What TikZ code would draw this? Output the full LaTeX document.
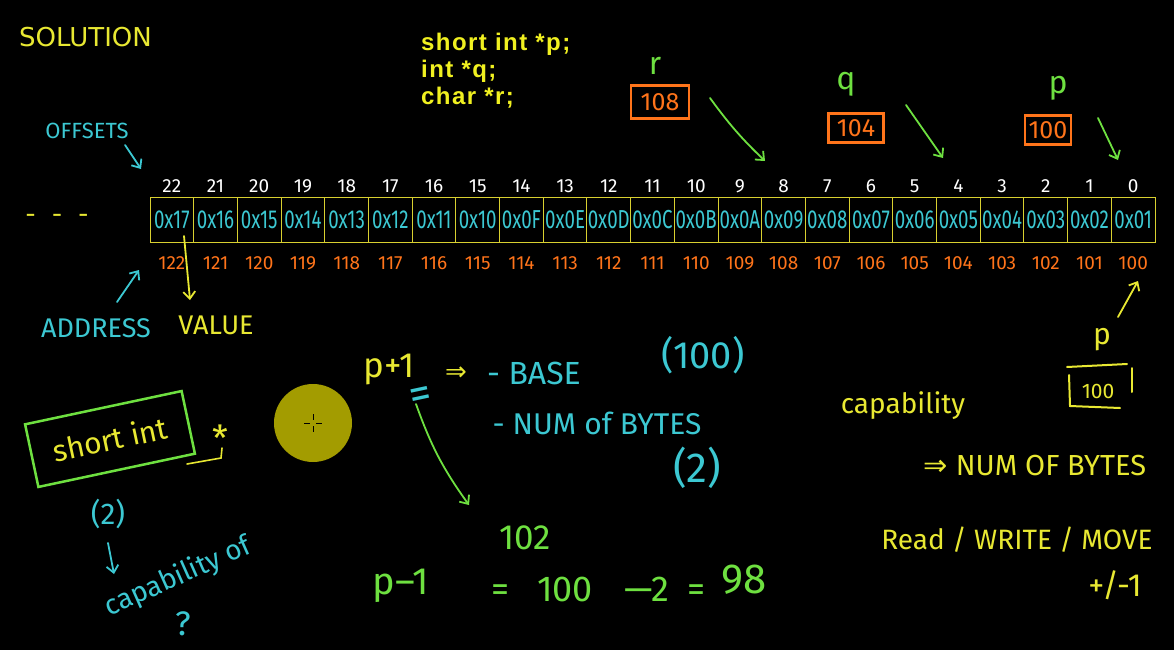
\documentclass[tikz,border=0pt]{standalone}
\usepackage{fontspec}
\usetikzlibrary{arrows.meta}
\newfontfamily\hw{Fira Sans}
\newfontfamily\hwc{Fira Sans}[FakeStretch=0.72]
\newfontfamily\solfont{DejaVu Sans}
\newfontfamily\codefont{Liberation Sans}[LetterSpace=6]
\newfontfamily\symfont{DejaVu Sans}
\definecolor{codeyellow}{HTML}{F0F020}
\definecolor{hwyellow}{HTML}{E8E832}
\definecolor{cyanc}{HTML}{3CC8D2}
\definecolor{orangec}{HTML}{FF741A}
\definecolor{greenc}{HTML}{6EE040}
\definecolor{cellyellow}{HTML}{D8D030}
\definecolor{olivec}{HTML}{A39C00}
\begin{document}
\begin{tikzpicture}[x=1pt,y=-1pt,
  cell/.style={draw=cellyellow,line width=1pt,minimum width=43.7pt,minimum height=45pt,inner sep=0pt,text=cyanc,font=\hwc\fontsize{26}{26}\selectfont},
  offs/.style={text=white,font=\hw\fontsize{19}{19}\selectfont,inner sep=1pt},
  addr/.style={text=orangec,font=\hw\fontsize{19}{19}\selectfont,inner sep=1pt},
  ptrbox/.style={draw=orangec,line width=2.2pt,text=orangec,font=\hw\fontsize{25}{25}\selectfont,inner sep=1pt},
  plab/.style={text=greenc,font=\hw\fontsize{32}{32}\selectfont,inner sep=1pt},
  arr/.style={line width=1.8pt,line cap=round,-{Straight Barb[length=7pt,width=12pt]}},
  hwy/.style={text=hwyellow,inner sep=1pt},
  hwcy/.style={text=cyanc,inner sep=1pt},
  hwg/.style={text=greenc,inner sep=1pt},
  fs/.style={font=\hw\fontsize{#1}{#1}\selectfont}
]
\fill[black] (0,0) rectangle (1174,650);
\useasboundingbox (0,0) rectangle (1174,650);

% title and code
\node[text=hwyellow,font=\solfont\fontsize{26}{26}\selectfont,anchor=west,inner sep=0pt] (sol) at (19,37) {SOLUTION};
\node[text=codeyellow,font=\codefont\bfseries\fontsize{24}{27}\selectfont,anchor=north west,align=left,inner sep=0pt] (code) at (421,33) {short int *p;\\int *q;\\char *r;};

% memory row
\foreach \k/\v in {22/0x17,21/0x16,20/0x15,19/0x14,18/0x13,17/0x12,16/0x11,15/0x10,14/0x0F,13/0x0E,12/0x0D,11/0x0C,10/0x0B,9/0x0A,8/0x09,7/0x08,6/0x07,5/0x06,4/0x05,3/0x04,2/0x03,1/0x02,0/0x01}{
  \pgfmathsetmacro\cx{150+(22-\k)*43.6957+21.85}
  \pgfmathtruncatemacro\ad{100+\k}
  \node[cell] (c\k) at (\cx,219.5) {\v};
  \node[offs] (o\k) at (\cx,186) {\k};
  \node[addr] (a\k) at (\cx,263) {\ad};
}

% left labels
\node[hwy,fs=26] (dots) at (57,219) {-\hspace{16pt}-\hspace{16pt}-};
\node[hwcy,fs=22] (offl) at (87,131) {OFFSETS};
\coordinate (offA) at (125,145);
\coordinate (offB) at (141,169);
\draw[arr,cyanc] (offA) -- (offB);

\node[hwcy,fs=27] (addrl) at (96,328) {ADDRESS};
\node[hwy,fs=27] (vall) at (216,325) {VALUE};
\coordinate (adA) at (117,302);
\coordinate (adB) at (139,270);
\draw[arr,cyanc] (adA) -- (adB);
\coordinate (vaA) at (184,236);
\coordinate (vaB) at (190,300);
\draw[arr,hwyellow] (vaA) -- (vaB);

% pointer boxes
\node[ptrbox,minimum width=58pt,minimum height=33pt] (rbox) at (660,102) {108};
\node[plab] (rlab) at (655,66) {r};
\node[ptrbox,minimum width=55pt,minimum height=29pt] (qbox) at (856,128) {104};
\node[plab] (qlab) at (846,84) {q};
\node[ptrbox,minimum width=46pt,minimum height=29pt] (pbox) at (1048,130) {100};
\node[plab] (plab1) at (1058,88) {p};
\coordinate (rA) at (710,98);  \coordinate (rB) at (765,161);
\coordinate (qA) at (906,105); \coordinate (qB) at (943,158);
\coordinate (pA) at (1098,118);\coordinate (pB) at (1118,160);
\draw[arr,greenc] (rA) to[bend right=5] (rB);
\draw[arr,greenc] (qA) -- (qB);
\draw[arr,greenc] (pA) -- (pB);

% p box bottom right
\coordinate (p2A) at (1118,317);
\coordinate (p2B) at (1138,281);
\draw[arr,hwyellow] (p2A) -- (p2B);
\node[hwy,fs=30] (p2) at (1102,340) {p};
\node[hwy,fs=21] (p2v) at (1098,391) {100};
\draw[hwyellow,line width=2pt,line cap=round] (1067,367) -- (1127,364);
\draw[hwyellow,line width=2pt,line cap=round] (1069,375) -- (1070,406) -- (1120,408);
\draw[hwyellow,line width=2pt,line cap=round] (1132,368) -- (1132,392);

% short int box
\node[draw=greenc,line width=2.5pt,rotate=12,minimum width=160pt,minimum height=64pt,hwy,fs=30] (sibox) at (110,439) {short int};
\node[hwy,fs=36] (star) at (220,438) {*};
\draw[hwyellow,line width=1.6pt,line cap=round] (187,464) -- (221,458) -- (222,448);
\node[hwcy,fs=30] (two1) at (108,514) {(2)};
\coordinate (cA) at (108,543);
\coordinate (cB) at (114,574);
\draw[arr,cyanc] (cA) -- (cB);
\node[hwcy,fs=28,rotate=24] (capof) at (178,577) {capability of};
\node[hwcy,fs=34] (qm) at (183,624) {?};

% cursor highlight
\fill[olivec] (313,423) circle (39);
\draw[black,line width=1pt] (304,423) -- (310,423) (316,423) -- (322,423) (313,414) -- (313,420) (313,426) -- (313,432);

% centre notes
\node[hwy,fs=35] (pp1) at (389,370) {p+1};
\node[hwy,font=\symfont\fontsize{26}{26}\selectfont] (impl) at (456,374) {⇒};
\node[hwcy,fs=32] (base) at (534,373) {- BASE};
\node[hwcy,fs=38] (hund) at (703,355) {(100)};
\node[hwcy,fs=44,rotate=12] (eqc) at (421,398) {=};
\node[hwcy,fs=30] (numb) at (597,423) {- NUM of BYTES};
\node[hwcy,fs=42] (two2) at (697,468) {(2)};
\coordinate (gA) at (416,404);
\coordinate (gB) at (469,505);
\draw[arr,greenc] (gA) to[bend right=8] (gB);
\node[hwg,fs=35] (h102) at (525,538) {102};
\node[hwg,fs=38] (pm1) at (401,586) {p–1};
\node[hwg,fs=36,anchor=west] (eqn) at (490,583) {=\hspace{28pt}100\hspace{32pt}—2\hspace{18pt}=\hspace{16pt}\raisebox{8pt}{\fontsize{42}{42}\selectfont 98}};

% right notes
\node[hwy,fs=28] (capr) at (903,406) {capability};
\node[hwy,fs=29] (numr) at (1035,466) {\symfont⇒\hw\ NUM OF BYTES};
\node[hwy,fs=28] (rwm) at (1017,540) {Read / WRITE / MOVE};
\node[hwy,fs=32] (pm) at (1115,585) {+/-1};
\end{tikzpicture}
\end{document}
